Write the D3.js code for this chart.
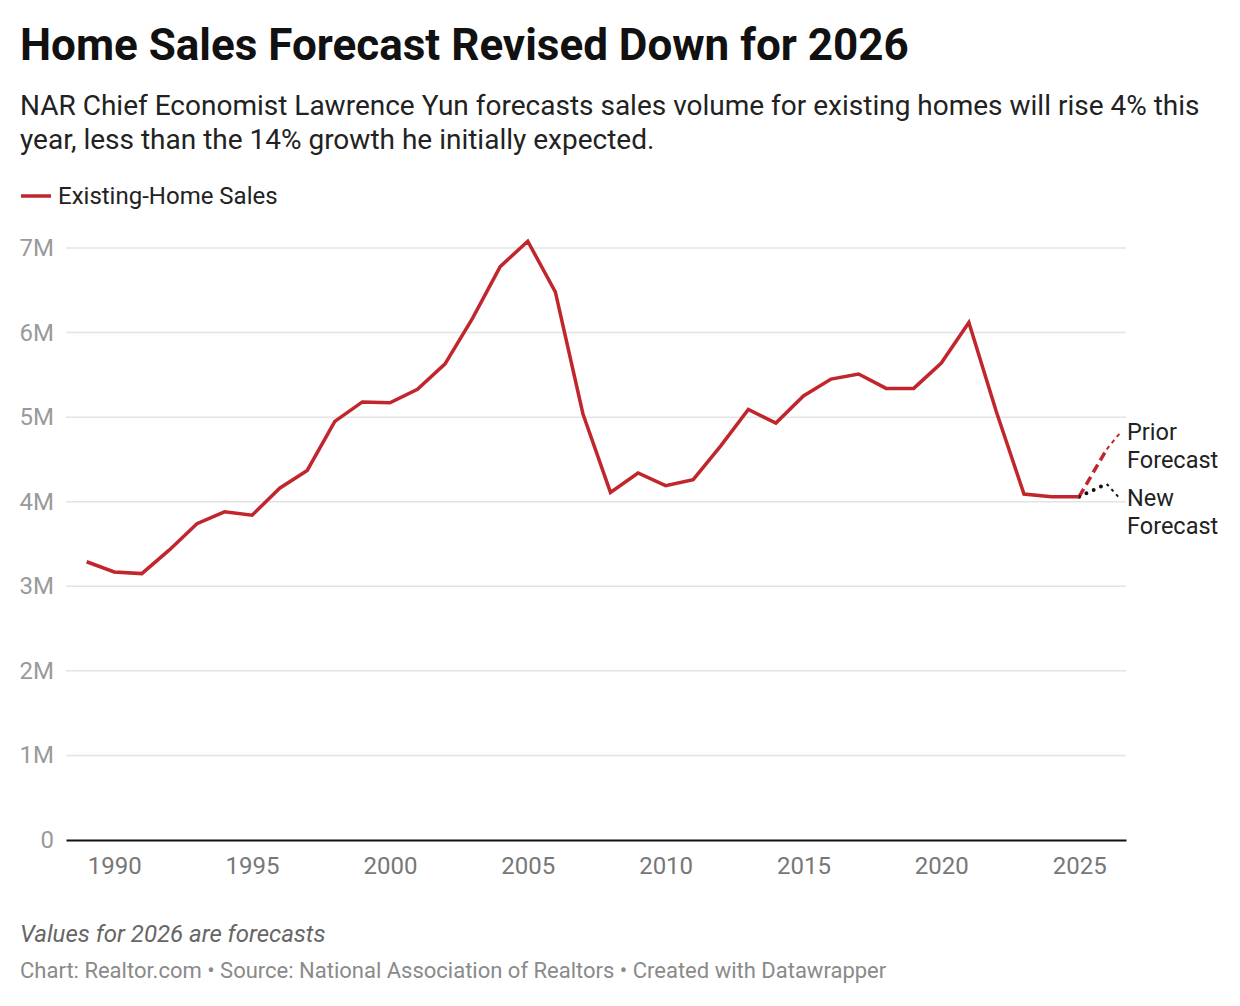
<!DOCTYPE html>
<html>
<head>
<meta charset="utf-8">
<script src="https://cdn.jsdelivr.net/npm/d3@7"></script>
<style>
  body { margin: 0; background: #fff; font-family: Roboto, "Noto Sans", sans-serif; }
  svg text { font-family: Roboto, "Noto Sans", sans-serif; }
</style>
</head>
<body>
<svg id="chart" width="1240" height="1006"></svg>
<script>
// data (millions of homes)
var years = [1989, 1990, 1991, 1992, 1993, 1994, 1995, 1996, 1997, 1998,
             1999, 2000, 2001, 2002, 2003, 2004, 2005, 2006, 2007, 2008,
             2009, 2010, 2011, 2012, 2013, 2014, 2015, 2016, 2017, 2018,
             2019, 2020, 2021, 2022, 2023, 2024, 2025];
var sales = [3.29, 3.17, 3.15, 3.43, 3.74, 3.88, 3.84, 4.16, 4.37, 4.95,
             5.18, 5.17, 5.33, 5.63, 6.17, 6.78, 7.08, 6.48, 5.04, 4.11,
             4.34, 4.19, 4.26, 4.66, 5.09, 4.93, 5.25, 5.45, 5.51, 5.34,
             5.34, 5.64, 6.12, 5.06, 4.09, 4.06, 4.06];

var forecastYears = [2025, 2026, 2026.5];
var priorForecast = [4.06, 4.62, 4.82];
var newForecast = [4.06, 4.21, 4.03];

var yTicks = [0, 1, 2, 3, 4, 5, 6, 7];
var xTicks = [1990, 1995, 2000, 2005, 2010, 2015, 2020, 2025];

var red = "#c0262c";

var svg = d3.select("#chart");

// helper functions
function toPoints(xs, ys){
    return xs.map(function(x, i){ return [x, ys[i]]; });
}

function fmtM(d){
    return d === 0 ? "0" : d + "M";
}

// header
svg.append("text")
    .attr("x", 20).attr("y", 60)
    .attr("font-size", 44).attr("font-weight", 700)
    .attr("fill", "#111")
    .text("Home Sales Forecast Revised Down for 2026");

var sub = svg.append("text")
    .attr("font-size", 28).attr("fill", "#222");
sub.append("tspan").attr("x", 20).attr("y", 115)
    .text("NAR Chief Economist Lawrence Yun forecasts sales volume for existing homes will rise 4% this");
sub.append("tspan").attr("x", 20).attr("y", 149)
    .text("year, less than the 14% growth he initially expected.");

// legend
svg.append("line")
    .attr("x1", 21).attr("x2", 51)
    .attr("y1", 196).attr("y2", 196)
    .attr("stroke", red).attr("stroke-width", 3.5);
svg.append("text")
    .attr("x", 58).attr("y", 204)
    .attr("font-size", 24).attr("fill", "#222")
    .text("Existing-Home Sales");

// scales
var x = d3.scaleLinear().domain([1988.25, 2026.7]).range([66, 1126]);
var y = d3.scaleLinear().domain([0, 7]).range([840, 248]);

// gridlines
svg.append("g")
    .selectAll("line")
    .data(yTicks.filter(function(d){ return d > 0; }))
    .enter().append("line")
    .attr("x1", 66).attr("x2", 1126)
    .attr("y1", function(d){ return y(d); })
    .attr("y2", function(d){ return y(d); })
    .attr("stroke", "#e3e3e3").attr("stroke-width", 1.5);

// y labels
svg.append("g")
    .selectAll("text")
    .data(yTicks)
    .enter().append("text")
    .attr("x", 54)
    .attr("y", function(d){ return y(d) + 8; })
    .attr("text-anchor", "end")
    .attr("font-size", 24).attr("fill", "#9a9a9a")
    .text(fmtM);

// x axis
var xAxis = d3.axisBottom(x).tickValues(xTicks).tickSize(0).tickPadding(17)
    .tickFormat(d3.format("d"));
var gx = svg.append("g").attr("transform", "translate(0,840)").call(xAxis);
gx.select(".domain").attr("stroke", "#111").attr("stroke-width", 2);
gx.selectAll("text").attr("font-size", 24).attr("fill", "#777")
    .attr("font-family", "Roboto, sans-serif");

var line = d3.line()
    .x(function(d){ return x(d[0]); })
    .y(function(d){ return y(d[1]); });

// forecast lines: thicker first segment, thinner tail
var prior = toPoints(forecastYears, priorForecast);
var fresh = toPoints(forecastYears, newForecast);

svg.append("path").datum(prior.slice(0, 2))
    .attr("d", line).attr("fill", "none")
    .attr("stroke", red).attr("stroke-width", 3.5)
    .attr("stroke-dasharray", "9,5");
svg.append("path").datum(prior.slice(1))
    .attr("d", line).attr("fill", "none")
    .attr("stroke", red).attr("stroke-width", 2)
    .attr("stroke-dasharray", "4,4");

svg.append("path").datum(fresh.slice(0, 2))
    .attr("d", line).attr("fill", "none")
    .attr("stroke", "#111").attr("stroke-width", 4)
    .attr("stroke-linecap", "round")
    .attr("stroke-dasharray", "0,8");
svg.append("path").datum(fresh.slice(1))
    .attr("d", line).attr("fill", "none")
    .attr("stroke", "#111").attr("stroke-width", 2)
    .attr("stroke-dasharray", "3,4");

// main line
svg.append("path")
    .datum(toPoints(years, sales))
    .attr("d", line)
    .attr("fill", "none")
    .attr("stroke", red)
    .attr("stroke-width", 3.5)
    .attr("stroke-linejoin", "miter");

// forecast labels
function label(lines, yy){
    var t = svg.append("text").attr("font-size", 23.5).attr("fill", "#222");
    lines.forEach(function(s, i){
        t.append("tspan").attr("x", 1127).attr("y", yy + i * 28).text(s);
    });
}
label(["Prior", "Forecast"], 440);
label(["New", "Forecast"], 506);

// notes
svg.append("text")
    .attr("x", 20).attr("y", 942)
    .attr("font-size", 24).attr("font-style", "italic").attr("fill", "#666")
    .text("Values for 2026 are forecasts");
svg.append("text")
    .attr("x", 20).attr("y", 978)
    .attr("font-size", 22).attr("fill", "#8a8a8a")
    .text("Chart: Realtor.com \u2022 Source: National Association of Realtors \u2022 Created with Datawrapper");
</script>
</body>
</html>
